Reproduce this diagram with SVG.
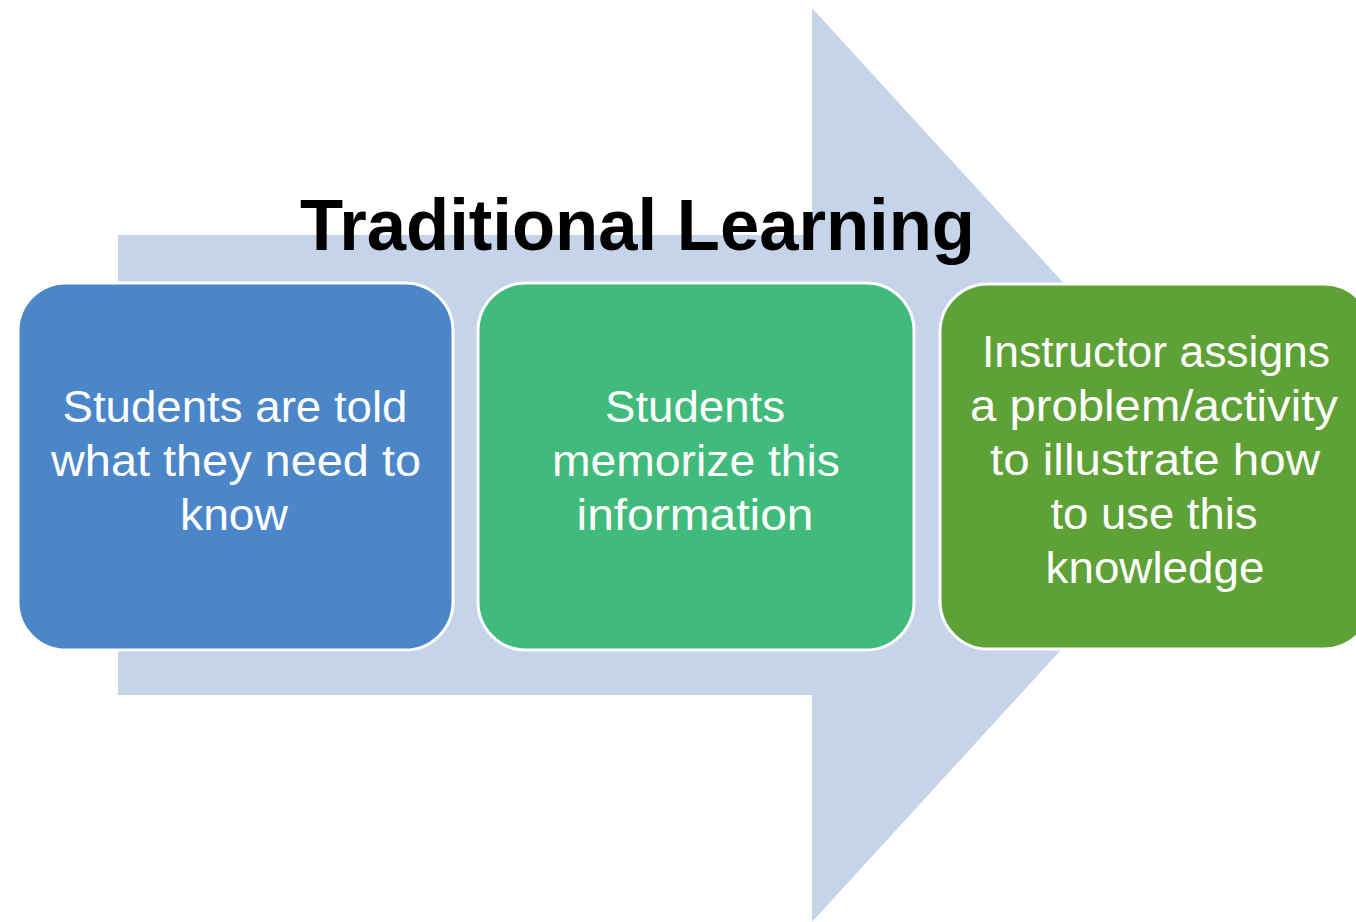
<svg xmlns="http://www.w3.org/2000/svg" width="1356" height="922" viewBox="0 0 1356 922">
  <style>
    .box { stroke: #ffffff; stroke-width: 3; }
    .lbl { font-family: "Liberation Sans", Arial, sans-serif; font-size: 45px; fill: #ffffff; text-anchor: middle; }
    .title { font-family: "Liberation Sans", Arial, sans-serif; font-size: 72px; font-weight: bold; fill: #000000; }
  </style>
  <rect width="1356" height="922" fill="#ffffff"/>
  <g id="connectors">
    <polygon id="big-arrow" points="118,235 812,235 812,8 1230,465 812,922 812,695 118,695" fill="#C6D4EA"/>
  </g>
  <g id="title">
    <text class="title" x="300" y="250" textLength="675" lengthAdjust="spacingAndGlyphs">Traditional Learning</text>
  </g>
  <g id="node1">
    <rect class="box" x="18" y="283" width="435" height="367" rx="48" ry="48" fill="#4A86C8"/>
    <text class="lbl" x="235" y="422" textLength="345" lengthAdjust="spacingAndGlyphs">Students are told</text>
    <text class="lbl" x="236" y="476" textLength="370" lengthAdjust="spacingAndGlyphs">what they need to</text>
    <text class="lbl" x="234" y="530" textLength="108" lengthAdjust="spacingAndGlyphs">know</text>
  </g>
  <g id="node2">
    <rect class="box" x="478" y="283" width="436" height="367" rx="48" ry="48" fill="#41BB7B"/>
    <text class="lbl" x="695" y="422" textLength="180" lengthAdjust="spacingAndGlyphs">Students</text>
    <text class="lbl" x="696" y="476" textLength="288" lengthAdjust="spacingAndGlyphs">memorize this</text>
    <text class="lbl" x="695" y="530" textLength="237" lengthAdjust="spacingAndGlyphs">information</text>
  </g>
  <g id="node3">
    <rect class="box" x="940" y="284" width="432" height="365" rx="48" ry="48" fill="#5EA136"/>
    <text class="lbl" x="1156" y="367" textLength="348" lengthAdjust="spacingAndGlyphs">Instructor assigns</text>
    <text class="lbl" x="1154" y="421" textLength="368" lengthAdjust="spacingAndGlyphs">a problem/activity</text>
    <text class="lbl" x="1155" y="475" textLength="330" lengthAdjust="spacingAndGlyphs">to illustrate how</text>
    <text class="lbl" x="1154" y="529" textLength="207" lengthAdjust="spacingAndGlyphs">to use this</text>
    <text class="lbl" x="1155" y="583" textLength="219" lengthAdjust="spacingAndGlyphs">knowledge</text>
  </g>
</svg>
